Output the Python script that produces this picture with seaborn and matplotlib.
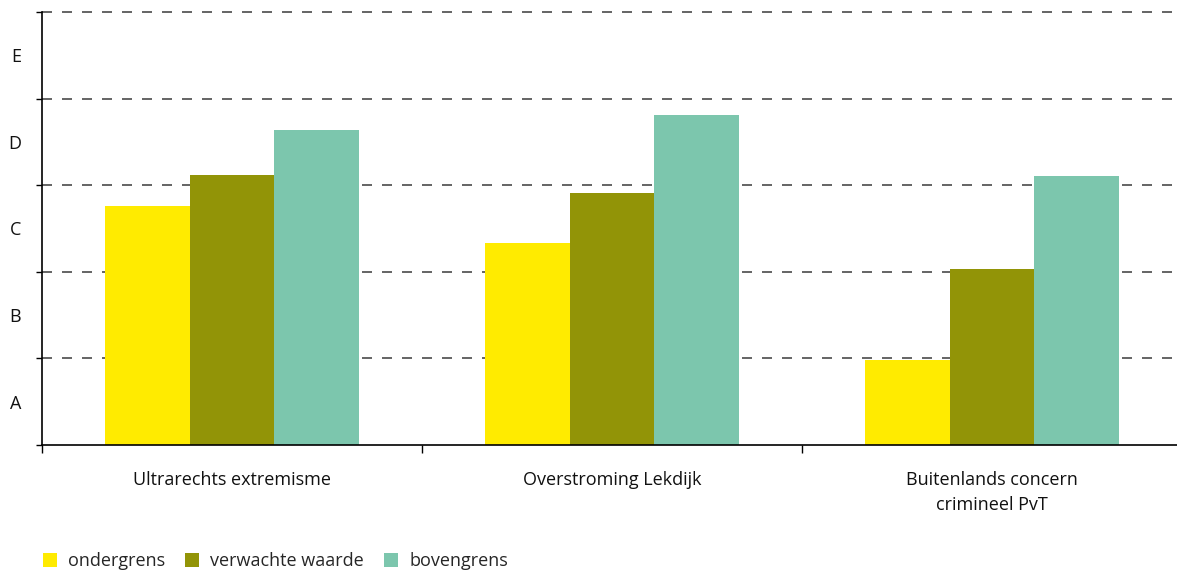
import matplotlib
matplotlib.use("Agg")
import matplotlib.pyplot as plt
import seaborn as sns
import pandas as pd
from matplotlib.patches import Patch

categories = ["Ultrarechts extremisme", "Overstroming Lekdijk", "Buitenlands concern\ncrimineel PvT"]
series = ["ondergrens", "verwachte waarde", "bovengrens"]
ondergrens = [2.76, 2.33, 0.98]
verwachte_waarde = [3.12, 2.91, 2.03]
bovengrens = [3.64, 3.81, 3.11]
band_labels = ["A", "B", "C", "D", "E"]
colors = ["#FFEB00", "#929407", "#7CC6AD"]

rows = []
for s, vals in zip(series, [ondergrens, verwachte_waarde, bovengrens]):
    for c, v in zip(categories, vals):
        rows.append({"categorie": c, "reeks": s, "waarde": v})
df = pd.DataFrame(rows)

sns.set_theme(style="white")
plt.rcParams["font.family"] = ["Open Sans", "DejaVu Sans"]

fig = plt.figure(figsize=(11.77, 5.71), dpi=100)
ax = fig.add_axes([42/1177, 1-445/571, 1-42/1177, (445-12)/571])

sns.barplot(data=df, x="categorie", y="waarde", hue="reeks", order=categories,
            hue_order=series, palette=colors, width=0.67, gap=0, saturation=1,
            linewidth=0, ax=ax, legend=False, zorder=3)

ax.set_xlim(-0.5, 2.487)
ax.set_ylim(0, 5)
ax.set_xlabel("")
ax.set_ylabel("")

# gridlines
for yv in range(1, 6):
    ax.axhline(yv, color="#4a4a4a", lw=1.2, ls=(0, (6.0, 6.0)), zorder=1, clip_on=False)

for s in ["top", "right"]:
    ax.spines[s].set_visible(False)
for s in ["left", "bottom"]:
    ax.spines[s].set_color("black")
    ax.spines[s].set_linewidth(1.2)
    ax.spines[s].set_zorder(4)

# y: ticks at band edges, labels in band middles
ax.set_yticks(range(0, 6))
ax.set_yticklabels([])
ax.set_yticks([0.5, 1.5, 2.5, 3.5, 4.5], minor=True)
ax.set_yticklabels(band_labels, minor=True)
ax.tick_params(axis="y", which="major", length=4, width=1, color="black", direction="out", left=True)
ax.tick_params(axis="y", which="minor", length=0, pad=15, labelsize=13, labelcolor="#111111")

# x: labels at centers, ticks at boundaries
ax.set_xticks(range(len(categories)))
ax.set_xticklabels(categories, linespacing=1.45)
ax.set_xticks([-0.5, 0.5, 1.5], minor=True)
ax.tick_params(axis="x", which="major", length=0, pad=19, labelsize=13, labelcolor="#111111")
ax.tick_params(axis="x", which="minor", length=6, width=1, color="black", direction="out", bottom=True)

handles = [Patch(facecolor=c, edgecolor="none", label=s) for c, s in zip(colors, series)]
fig.legend(handles=handles, loc="lower left", bbox_to_anchor=(30/1177, -12/571), ncol=3,
           frameon=False, fontsize=13, handlelength=0.8, handleheight=0.8,
           handletextpad=0.6, columnspacing=1.1, borderaxespad=0.3)

fig.savefig("out.png", dpi=100, facecolor="white")
